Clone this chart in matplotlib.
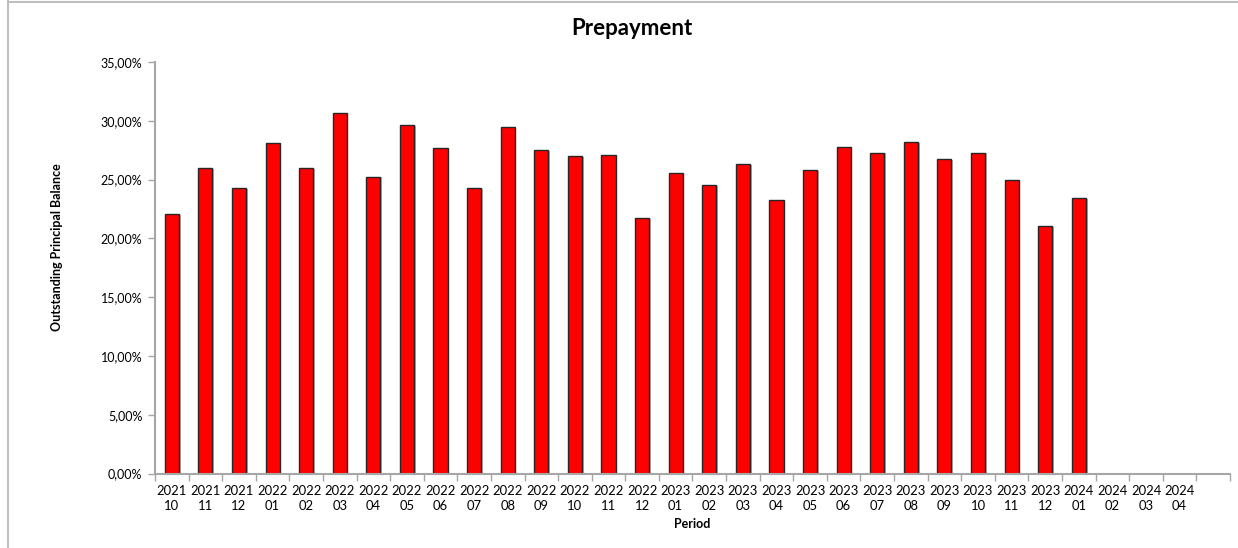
import numpy as np
from matplotlib import pyplot as plt
from matplotlib import patheffects as pe
from matplotlib.ticker import FuncFormatter, FixedLocator

plt.rcParams['font.family'] = ['Lato', 'DejaVu Sans']

periods = ["2021\n10", "2021\n11", "2021\n12", "2022\n01", "2022\n02", "2022\n03",
           "2022\n04", "2022\n05", "2022\n06", "2022\n07", "2022\n08", "2022\n09",
           "2022\n10", "2022\n11", "2022\n12", "2023\n01", "2023\n02", "2023\n03",
           "2023\n04", "2023\n05", "2023\n06", "2023\n07", "2023\n08", "2023\n09",
           "2023\n10", "2023\n11", "2023\n12", "2024\n01", "2024\n02", "2024\n03",
           "2024\n04", ""]

# prepayment share in %, no values after 2024 01
prepayment = [22.05, 25.95, 24.25, 28.15, 26.0, 30.65,
              25.25, 29.6, 27.7, 24.25, 29.45, 27.5,
              27.0, 27.1, 21.75, 25.55, 24.55, 26.35,
              23.3, 25.8, 27.75, 27.3, 28.2, 26.75,
              27.3, 25.0, 21.05, 23.45, np.nan, np.nan,
              np.nan, np.nan]

grey = "#a6a6a6"

fig = plt.figure(figsize=(12.38, 5.48), dpi=100)
ax = fig.add_axes([0.1252, 0.1359, 0.8683, 0.751])

xs = np.arange(len(periods))
bars = ax.bar(xs, prepayment, width=0.42, color="#ff0000", edgecolor="#262626", linewidth=1.0)
for b in bars:
    b.set_path_effects([pe.SimplePatchShadow(offset=(1.2, -0.6), shadow_rgbFace="#808080", alpha=0.6),
                        pe.Normal()])

ax.set_xlim(-0.5, len(periods) - 0.5)
ax.set_ylim(0, 35)
ax.set_yticks(np.arange(0, 36, 5))
ax.yaxis.set_major_formatter(FuncFormatter(lambda v, p: ("%.2f%%" % v).replace(".", ",")))

ax.set_xticks(xs)
ax.set_xticklabels(periods, linespacing=1.35)
ax.xaxis.set_minor_locator(FixedLocator(np.arange(-0.5, len(periods), 1.0)))
ax.tick_params(axis="x", which="major", length=0, pad=8, labelsize=9.4, colors="#000000")
ax.tick_params(axis="x", which="minor", length=5, width=1.0, color=grey, direction="out")
ax.tick_params(axis="y", length=5, width=1.0, color=grey, labelsize=9.0, pad=4)

for s in ["top", "right"]:
    ax.spines[s].set_visible(False)
for s in ["left", "bottom"]:
    ax.spines[s].set_color(grey)
    ax.spines[s].set_linewidth(1.5)

ax.set_xlabel("Period", fontsize=9.0, fontweight="bold", labelpad=4)
fig.text(57 / 1238, 1 - 247 / 548, "Outstanding Principal Balance", rotation=90,
         ha="center", va="center", fontsize=9.0, fontweight="bold")
fig.text(632 / 1238, 0.948, "Prepayment", ha="center", va="center", fontsize=16, fontweight="bold")

# chart frame lines at left and top
fig.add_artist(plt.Line2D([0.0065, 0.0065], [0, 1], transform=fig.transFigure, color="#bfbfbf", lw=1.5))
fig.add_artist(plt.Line2D([0.0065, 1], [0.997, 0.997], transform=fig.transFigure, color="#bfbfbf", lw=1.5))

fig.savefig("out.png", dpi=100)
